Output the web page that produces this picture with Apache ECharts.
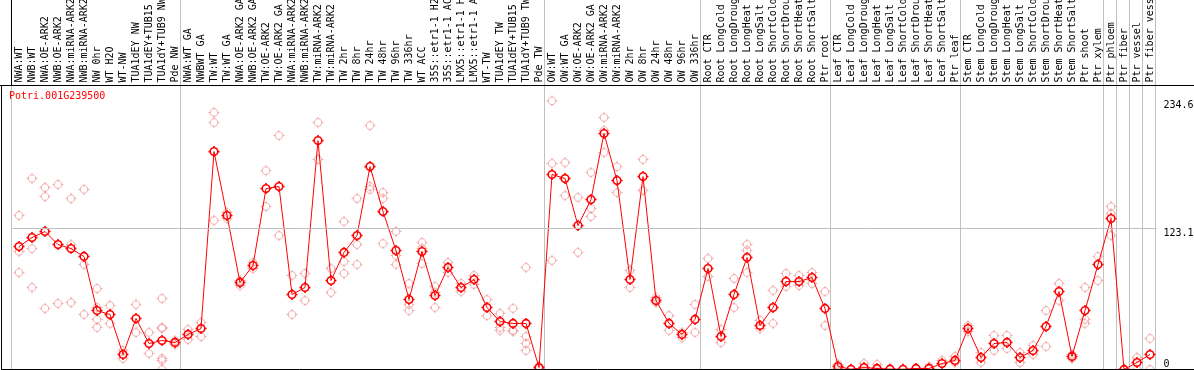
<!DOCTYPE html>
<html><head><meta charset="utf-8">
<script src="https://cdn.jsdelivr.net/npm/echarts@6/dist/echarts.min.js"></script>
<style>html,body{margin:0;padding:0;background:#fff;overflow:hidden}#c{width:1194px;height:370px}</style>
</head><body><div id="c"></div>
<script>
const geneId = 'Potri.001G239500';
const categories = [
 'NWA:WT','NWB:WT','NWA:OE-ARK2','NWB:OE-ARK2','NWA:miRNA-ARK2','NWB:miRNA-ARK2','NW 0hr','WT H2O','WT-NW','TUA1dEY NW','TUA1dEY+TUB15 NW','TUA1dY+TUB9 NW','Pde NW',
 'NWA:WT GA','NWBWT GA','TW:WT','TW:WT GA','NWA:OE-ARK2 GA','NWB:OE-ARK2 GA','TW:OE-ARK2','TW:OE-ARK2 GA','NWA:miRNA-ARK2','NWB:miRNA-ARK2','TW:miRNA-ARK2','TW:miRNA-ARK2 GA',
 'TW 2hr','TW 8hr','TW 24hr','TW 48hr','TW 96hr','TW 336hr','WT ACC','35S::etr1-1 H2O','35S::etr1-1 ACC','LMX5::etr1-1 H2O','LMX5::etr1-1 ACC','WT-TW','TUA1dEY TW','TUA1dEY+TUB15 TW','TUA1dY+TUB9 TW','Pde TW',
 'OW:WT','OW:WT GA','OW:OE-ARK2','OW:OE-ARK2 GA','OW:miRNA-ARK2','OW:miRNA-ARK2 GA','OW 2hr','OW 8hr','OW 24hr','OW 48hr','OW 96hr','OW 336hr',
 'Root CTR','Root LongCold','Root LongDrought','Root LongHeat','Root LongSalt','Root ShortCold','Root ShortDrought','Root ShortHeat','Root ShortSalt','Ptr root',
 'Leaf CTR','Leaf LongCold','Leaf LongDrought','Leaf LongHeat','Leaf LongSalt','Leaf ShortCold','Leaf ShortDrought','Leaf ShortHeat','Leaf ShortSalt','Ptr leaf',
 'Stem CTR','Stem LongCold','Stem LongDrought','Stem LongHeat','Stem LongSalt','Stem ShortCold','Stem ShortDrought','Stem ShortHeat','Stem ShortSalt','Ptr shoot',
 'Ptr xylem','Ptr phloem','Ptr fiber','Ptr vessel','Ptr fiber vessel'
];
const means = [
 107.4,115.2,120.5,109.1,105.6,98.7,51.5,48.0,13.1,44.5,22.7,25.3,23.6,
 30.6,35.8,190.3,134.5,76.0,90.8,158.0,159.8,65.5,71.6,199.9,77.7,
 102.2,117.0,177.2,137.9,103.9,61.1,103.0,64.6,89.1,71.6,78.6,54.1,41.9,40.2,40.2,1.7,
 170.3,166.8,125.7,148.4,206.1,165.0,78.6,168.5,60.2,40.2,30.6,43.7,
 88.2,28.8,65.5,97.8,38.4,54.1,76.8,76.8,80.3,53.3,
 2.6,0.2,1.7,0.9,0.3,0.2,0.9,0.9,5.2,7.9,
 35.8,10.5,22.7,23.6,10.5,16.6,37.5,68.1,11.4,51.5,
 91.7,131.8,0.1,6.1,13.1
];
const replicates = [
 [134.5,103.0,84.7],[166.8,105.6,71.6],[158.9,151.0,53.3],[161.5,57.6],[149.3,109.1,58.5],[157.2,91.7,48.0],
 [70.7,54.1,43.7,36.7],[55.9,40.2],[16.6,9.6],[56.8,32.3],[32.3,14.0],[62.0,36.7,35.8,9.6,7.9,0],[25.3,21.8],
 [34.9,26.2],[41.0,28.8],[224.4,215.7,130.1],[137.1,131.8],[77.7,73.3],[93.4,88.2],[173.7,142.3],[204.3,117.0],
 [82.1,48.0],[83.8,60.2],[215.7,183.4],[88.2,67.2],
 [129.2,94.3,83.8],[149.3,109.1,91.7],[213.0,159.8,157.2],[154.5,149.3,110.0],[120.5,99.5,91.7],[75.1,56.8,51.5],
 [110.9,105.6,92.5],[72.5,67.2,54.1],[93.4,84.7],[75.1,68.1],[82.1,74.2],[61.1,47.1],[48.9,36.7,34.1],[53.3,34.1,33.2],
 [89.1,28.8,22.7,16.6],[2.6,0.3],
 [234.6,179.9,95.2],[180.7,166.8,151.9],[150.2,102.2],[172.0,140.6,133.6],[220.0,208.7,189.5],[177.2,165.0,154.5],
 [86.4,71.6],[183.4,156.3],[62.9,58.5],[47.1,34.1],[32.3,27.9],[56.8,32.3],
 [96.9,81.2],[34.9,23.6],[79.5,54.1],[109.1,103.9,84.7],[42.8,35.8],[69.0,40.2],[83.8,72.5],[82.1,73.3],[84.7,75.1],[68.1,38.4],
 [4.4,0.9],[0.1],[5.2,0.9],[4.4,0.1],[0.3],[0.2],[0.9],[2.6],[7.9],[11.4,6.1],
 [38.4,33.2],[14.8,6.1],[29.7,16.6],[29.7,18.3],[14.8,6.1],[21.0,13.1],[51.5,20.1],[75.1,60.2],[13.1,9.6],[71.6,43.7,40.2],
 [98.7,77.7],[142.3,136.2,117.0],[0],[10.5,0],[27.1,0]
];
const groupBreaks = [0,13,41,53,63,73,84,85,86,87,88];
const axisMarks = [0,123.1,234.6];
const yMax = 248;

const repData = [];
replicates.forEach((arr,i)=>arr.forEach(v=>repData.push([i,v])));

const MONO = 'DejaVu Sans Mono';
// ring with four short tick marks (as in the reference markers)
const ringSym = 'path://M5.5,0L5.5,2.2M5.5,8.8L5.5,11M0,5.5L2.2,5.5M8.8,5.5L11,5.5' +
  'M9.3,5.5C9.3,7.6,7.6,9.3,5.5,9.3C3.4,9.3,1.7,7.6,1.7,5.5C1.7,3.4,3.4,1.7,5.5,1.7C7.6,1.7,9.3,3.4,9.3,5.5Z';
const lblBase = {fontFamily:MONO,fontSize:10,color:'#000',margin:7};

const chart = echarts.init(document.getElementById('c'));
chart.setOption({
 animation:false,
 title:{text:geneId,left:9,top:91,padding:0,textStyle:{color:'#ff0000',fontFamily:MONO,fontSize:10,fontWeight:'normal'}},
 grid:{left:12.5,right:37.5,top:85.5,bottom:0.5,containLabel:false,outerBoundsMode:'none'},
 xAxis:[
  {type:'category',data:categories,position:'top',boundaryGap:true,
   axisLine:{show:false},axisTick:{show:false},splitLine:{show:false},
   axisLabel:{rotate:90,interval:0,margin:3,fontFamily:MONO,fontSize:10,color:'#000'}},
  {type:'value',min:0,max:categories.length,show:false}
 ],
 yAxis:[
  {type:'value',min:0,max:yMax,position:'right',axisLine:{show:false},axisTick:{show:false},splitLine:{show:false},
   axisLabel:Object.assign({customValues:[axisMarks[1],axisMarks[2]],verticalAlign:'top',formatter:v=>String(v)},lblBase)},
  {type:'value',min:0,max:yMax,position:'right',axisLine:{show:false},axisTick:{show:false},splitLine:{show:false},
   axisLabel:Object.assign({customValues:[axisMarks[0]],verticalAlign:'bottom',formatter:v=>String(v)},lblBase)}
 ],
 series:[
  {type:'custom',xAxisIndex:1,yAxisIndex:0,silent:true,clip:false,z:1,
   data:groupBreaks.map(b=>[b,0]),
   renderItem:function(params,api){
     const cs=params.coordSys;
     const x=Math.floor(api.coord([api.value(0),0])[0])-0.5;
     return {type:'line',shape:{x1:x,y1:0,x2:x,y2:cs.y+cs.height},style:{stroke:'#c0c0c0',lineWidth:1}};
   }},
  {type:'scatter',data:repData,symbol:ringSym,symbolSize:11,silent:true,z:2,
   itemStyle:{color:'rgba(0,0,0,0)',borderColor:'#f09a9a',borderWidth:1}},
  {type:'line',data:means,symbol:ringSym,symbolSize:11,showAllSymbol:true,silent:true,z:3,
   lineStyle:{color:'#ff0000',width:1},
   itemStyle:{color:'rgba(0,0,0,0)',borderColor:'#ff0000',borderWidth:1.6},
   markLine:{silent:true,symbol:'none',label:{show:false},lineStyle:{color:'#c0c0c0',type:'solid',width:1},data:[{yAxis:axisMarks[1]}]}}
 ],
 graphic:[
  {type:'line',shape:{x1:0,y1:85.5,x2:1194,y2:85.5},style:{stroke:'#000',lineWidth:1},z:10},
  {type:'line',shape:{x1:1.5,y1:85,x2:1.5,y2:370},style:{stroke:'#000',lineWidth:1},z:10},
  {type:'line',shape:{x1:1,y1:369.5,x2:1194,y2:369.5},style:{stroke:'#000',lineWidth:1},z:10},
  {type:'line',shape:{x1:11.5,y1:0,x2:11.5,y2:85},style:{stroke:'#000',lineWidth:1},z:10}
 ]
});
</script></body></html>
